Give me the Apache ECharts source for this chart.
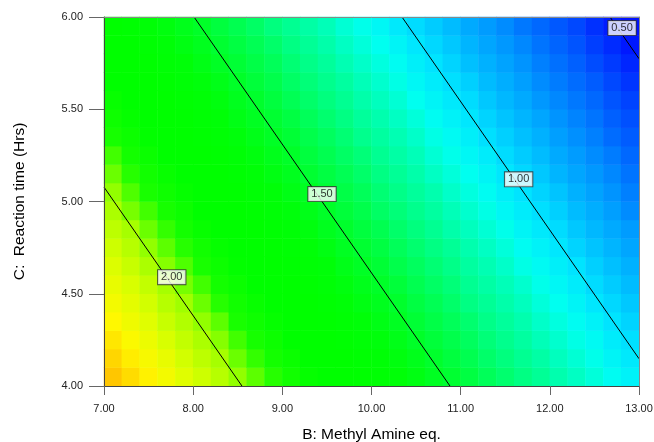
<!DOCTYPE html>
<html><head><meta charset="utf-8">
<script src="https://cdn.jsdelivr.net/npm/echarts@6/dist/echarts.min.js"></script>
<style>html,body{margin:0;padding:0;background:#fff}#c{width:654px;height:442px}</style>
</head><body><div id="c"></div>
<script>
// Cell centres of the response surface (B: Methyl Amine eq. x C: Reaction time)
const xCells = [7.1,7.3,7.5,7.7,7.9,8.1,8.3,8.5,8.7,8.9,9.1,9.3,9.5,9.7,9.9,10.1,10.3,10.5,10.7,10.9,11.1,11.3,11.5,11.7,11.9,12.1,12.3,12.5,12.7,12.9];
const yCells = [4.05,4.15,4.25,4.35,4.45,4.55,4.65,4.75,4.85,4.95,5.05,5.15,5.25,5.35,5.45,5.55,5.65,5.75,5.85,5.95];
// Response values (row = yCells index, column = xCells index)
const responseGrid = [
[2.29,2.25,2.21,2.17,2.12,2.08,2.04,1.99,1.95,1.91,1.87,1.82,1.78,1.74,1.69,1.65,1.61,1.57,1.52,1.48,1.44,1.39,1.35,1.31,1.27,1.22,1.18,1.14,1.09,1.05],
[2.26,2.22,2.18,2.14,2.09,2.05,2.01,1.96,1.92,1.88,1.84,1.79,1.75,1.71,1.66,1.62,1.58,1.54,1.49,1.45,1.41,1.36,1.32,1.28,1.24,1.19,1.15,1.11,1.06,1.02],
[2.23,2.19,2.15,2.10,2.06,2.02,1.98,1.93,1.89,1.85,1.80,1.76,1.72,1.68,1.63,1.59,1.55,1.50,1.46,1.42,1.38,1.33,1.29,1.25,1.20,1.16,1.12,1.08,1.03,0.99],
[2.20,2.16,2.12,2.07,2.03,1.99,1.95,1.90,1.86,1.82,1.77,1.73,1.69,1.65,1.60,1.56,1.52,1.47,1.43,1.39,1.35,1.30,1.26,1.22,1.17,1.13,1.09,1.05,1.00,0.96],
[2.17,2.13,2.09,2.04,2.00,1.96,1.91,1.87,1.83,1.79,1.74,1.70,1.66,1.61,1.57,1.53,1.49,1.44,1.40,1.36,1.31,1.27,1.23,1.19,1.14,1.10,1.06,1.01,0.97,0.93],
[2.14,2.10,2.06,2.01,1.97,1.93,1.88,1.84,1.80,1.76,1.71,1.67,1.63,1.58,1.54,1.50,1.46,1.41,1.37,1.33,1.28,1.24,1.20,1.16,1.11,1.07,1.03,0.98,0.94,0.90],
[2.11,2.07,2.02,1.98,1.94,1.90,1.85,1.81,1.77,1.72,1.68,1.64,1.60,1.55,1.51,1.47,1.42,1.38,1.34,1.30,1.25,1.21,1.17,1.12,1.08,1.04,1.00,0.95,0.91,0.87],
[2.08,2.04,1.99,1.95,1.91,1.87,1.82,1.78,1.74,1.69,1.65,1.61,1.57,1.52,1.48,1.44,1.39,1.35,1.31,1.27,1.22,1.18,1.14,1.09,1.05,1.01,0.96,0.92,0.88,0.84],
[2.05,2.01,1.96,1.92,1.88,1.83,1.79,1.75,1.71,1.66,1.62,1.58,1.53,1.49,1.45,1.41,1.36,1.32,1.28,1.23,1.19,1.15,1.11,1.06,1.02,0.98,0.93,0.89,0.85,0.81],
[2.02,1.97,1.93,1.89,1.85,1.80,1.76,1.72,1.67,1.63,1.59,1.55,1.50,1.46,1.42,1.37,1.33,1.29,1.25,1.20,1.16,1.12,1.07,1.03,0.99,0.95,0.90,0.86,0.82,0.77],
[1.99,1.94,1.90,1.86,1.82,1.77,1.73,1.69,1.64,1.60,1.56,1.52,1.47,1.43,1.39,1.34,1.30,1.26,1.22,1.17,1.13,1.09,1.04,1.00,0.96,0.92,0.87,0.83,0.79,0.74],
[1.96,1.91,1.87,1.83,1.78,1.74,1.70,1.66,1.61,1.57,1.53,1.48,1.44,1.40,1.36,1.31,1.27,1.23,1.18,1.14,1.10,1.06,1.01,0.97,0.93,0.88,0.84,0.80,0.76,0.71],
[1.93,1.88,1.84,1.80,1.75,1.71,1.67,1.63,1.58,1.54,1.50,1.45,1.41,1.37,1.33,1.28,1.24,1.20,1.15,1.11,1.07,1.03,0.98,0.94,0.90,0.85,0.81,0.77,0.73,0.68],
[1.89,1.85,1.81,1.77,1.72,1.68,1.64,1.59,1.55,1.51,1.47,1.42,1.38,1.34,1.29,1.25,1.21,1.17,1.12,1.08,1.04,0.99,0.95,0.91,0.87,0.82,0.78,0.74,0.69,0.65],
[1.86,1.82,1.78,1.74,1.69,1.65,1.61,1.56,1.52,1.48,1.44,1.39,1.35,1.31,1.26,1.22,1.18,1.14,1.09,1.05,1.01,0.96,0.92,0.88,0.84,0.79,0.75,0.71,0.66,0.62],
[1.83,1.79,1.75,1.70,1.66,1.62,1.58,1.53,1.49,1.45,1.40,1.36,1.32,1.28,1.23,1.19,1.15,1.10,1.06,1.02,0.98,0.93,0.89,0.85,0.80,0.76,0.72,0.68,0.63,0.59],
[1.80,1.76,1.72,1.67,1.63,1.59,1.55,1.50,1.46,1.42,1.37,1.33,1.29,1.25,1.20,1.16,1.12,1.07,1.03,0.99,0.95,0.90,0.86,0.82,0.77,0.73,0.69,0.65,0.60,0.56],
[1.77,1.73,1.69,1.64,1.60,1.56,1.51,1.47,1.43,1.39,1.34,1.30,1.26,1.21,1.17,1.13,1.09,1.04,1.00,0.96,0.91,0.87,0.83,0.79,0.74,0.70,0.66,0.61,0.57,0.53],
[1.74,1.70,1.66,1.61,1.57,1.53,1.48,1.44,1.40,1.36,1.31,1.27,1.23,1.18,1.14,1.10,1.06,1.01,0.97,0.93,0.88,0.84,0.80,0.76,0.71,0.67,0.63,0.58,0.54,0.50],
[1.71,1.67,1.62,1.58,1.54,1.50,1.45,1.41,1.37,1.32,1.28,1.24,1.20,1.15,1.11,1.07,1.02,0.98,0.94,0.90,0.85,0.81,0.77,0.72,0.68,0.64,0.60,0.55,0.51,0.47]
];
// Contour lines (end points in data units)
const contour200 = [[7.00, 5.078], [8.547, 4.00]];
const contour150 = [[8.01, 6.00], [10.88, 4.00]];
const contour100 = [[10.342, 6.00], [13.00, 4.148]];
const contour050 = [[12.675, 6.00], [13.00, 5.774]];
// Contour labels
const labelText = ['2.00', '1.50', '1.00', '0.50'];
const labelX = [7.76, 9.445, 11.65, 12.81];
const labelY = [4.59, 5.04, 5.12, 5.94];
// Colour scale
const colorMin = 0.4, colorMax = 2.4;
const colorStops = ['#0000F8','#0018FF','#0048FF','#0070FF','#0098FF','#00BCFF','#00E4FF','#00FFF0','#00FFB8','#00FF88','#00FF54','#00FF28','#00FF08','#00FF00','#00FF00','#18FF00','#A0FF00','#D8FF00','#FFF800','#FFC000','#F09000'];

const FONT = "'Liberation Sans', Arial, sans-serif";
const heatData = [];
responseGrid.forEach((row, j) => row.forEach((v, k) => heatData.push([k, j, v])));
const G = {left: 104, top: 17, width: 535, height: 369, containLabel: false, outerBoundsMode: 'none'};

const chart = echarts.init(document.getElementById('c'), null, {renderer: 'canvas'});
const lineStyle = {color: '#000', width: 1};
function contourSeries(d) {
  return {type: 'line', xAxisIndex: 1, yAxisIndex: 1, data: d, symbol: 'none', silent: true,
    z: 4, lineStyle: lineStyle, animation: false};
}
chart.setOption({
  animation: false,
  textStyle: {fontFamily: FONT},
  grid: [Object.assign({}, G), Object.assign({}, G)],
  visualMap: {show: false, type: 'continuous', seriesIndex: 0, min: colorMin, max: colorMax,
    inRange: {color: colorStops}},
  xAxis: [
    {gridIndex: 0, type: 'category', data: xCells.map(String), show: false},
    {gridIndex: 1, type: 'value', min: 7, max: 13, interval: 1, z: 6,
      name: 'B: Methyl Amine eq.', nameLocation: 'middle', nameGap: 41, nameMoveOverlap: false,
      nameTextStyle: {fontSize: 15.5, color: '#000', fontFamily: FONT},
      axisLine: {show: true, lineStyle: {color: '#444', width: 1}},
      axisTick: {show: true, length: 9, lineStyle: {color: '#666'}},
      axisLabel: {fontSize: 11, color: '#222', margin: 17, fontFamily: FONT, formatter: v => v.toFixed(2)},
      splitLine: {show: false}},
    {gridIndex: 1, type: 'value', min: 7, max: 13, position: 'top', z: 6,
      axisLine: {show: true, lineStyle: {color: '#888', width: 1}},
      axisTick: {show: false}, axisLabel: {show: false}, splitLine: {show: false}}
  ],
  yAxis: [
    {gridIndex: 0, type: 'category', data: yCells.map(String), show: false},
    {gridIndex: 1, type: 'value', min: 4, max: 6, interval: 0.5, z: 6,
      name: 'C:  Reaction time (Hrs)', nameLocation: 'middle', nameGap: 76, nameMoveOverlap: false,
      nameTextStyle: {fontSize: 15.5, color: '#000', fontFamily: FONT},
      axisLine: {show: true, lineStyle: {color: '#444', width: 1}},
      axisTick: {show: true, length: 15, lineStyle: {color: '#666'}},
      axisLabel: {fontSize: 11, color: '#222', margin: 21, fontFamily: FONT, formatter: v => v.toFixed(2)},
      splitLine: {show: false}},
    {gridIndex: 1, type: 'value', min: 4, max: 6, position: 'right', z: 6,
      axisLine: {show: true, lineStyle: {color: '#888', width: 1}},
      axisTick: {show: false}, axisLabel: {show: false}, splitLine: {show: false}}
  ],
  series: [
    {type: 'heatmap', xAxisIndex: 0, yAxisIndex: 0, data: heatData, silent: true, z: 2,
      itemStyle: {borderWidth: 0}, progressive: 0},
    contourSeries(contour200),
    contourSeries(contour150),
    contourSeries(contour100),
    contourSeries(contour050),
    {type: 'scatter', xAxisIndex: 1, yAxisIndex: 1, silent: true, z: 5, symbolSize: 1,
      itemStyle: {color: 'rgba(0,0,0,0)'},
      data: labelText.map((t, i) => ({name: t, value: [labelX[i], labelY[i]]})),
      label: {show: true, position: 'inside', formatter: p => p.name, fontSize: 11, color: '#000',
        fontFamily: FONT, backgroundColor: '#fff', borderColor: '#333', borderWidth: 1,
        padding: [2, 3, 1, 3]}}
  ]
});
</script></body></html>
